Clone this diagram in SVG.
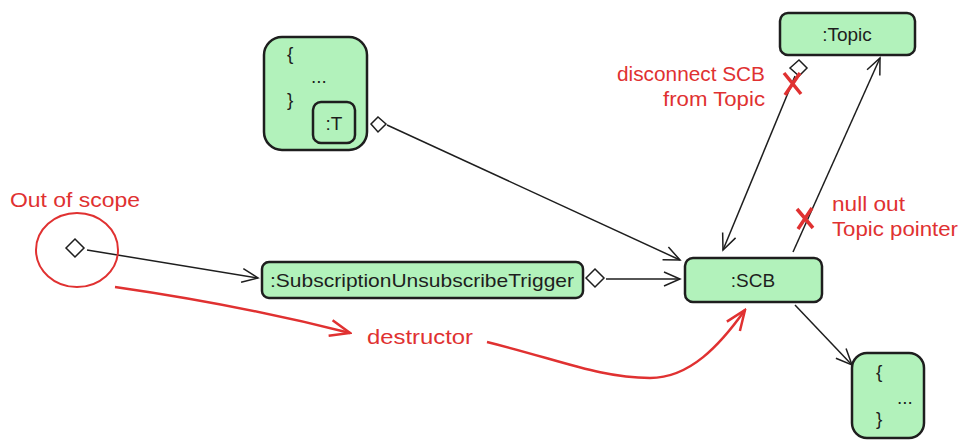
<svg xmlns="http://www.w3.org/2000/svg" width="968" height="448" viewBox="0 0 968 448">
<style>
.box{fill:#b2f2bb;stroke:#1e1e1e;stroke-width:2.5}
.t{font-family:"Liberation Sans",Arial,sans-serif;font-size:19px;fill:#1e1e1e}
.r{font-family:"Liberation Sans",Arial,sans-serif;font-size:20px;fill:#e03131}
.c{fill:none;stroke:#1e1e1e;stroke-width:1.5}
.rc{fill:none;stroke:#e03131;stroke-width:2.5}
.x{fill:none;stroke:#e03131;stroke-width:3.5}
.dia{fill:#fff;stroke:#1e1e1e;stroke-width:1.5}
</style>
<defs>
<marker id="ah" viewBox="0 0 20 20" refX="18" refY="10" markerWidth="20" markerHeight="20" markerUnits="userSpaceOnUse" orient="auto">
<path d="M2,3 L18,10 L2,17" fill="none" stroke="#1e1e1e" stroke-width="1.5"/>
</marker>
<marker id="rah" viewBox="0 0 24 24" refX="22" refY="12" markerWidth="24" markerHeight="24" markerUnits="userSpaceOnUse" orient="auto">
<path d="M2,4 L22,12 L2,20" fill="none" stroke="#e03131" stroke-width="2.5"/>
</marker>
</defs>

<g id="connectors">
<path class="c" d="M387,125 L680,260" marker-end="url(#ah)"/>
<path class="c" d="M87,250 L258,278" marker-end="url(#ah)"/>
<path class="c" d="M606,279 L680,279" marker-end="url(#ah)"/>
<path class="c" d="M795,76 L723,250" marker-end="url(#ah)"/>
<path class="c" d="M793,252 L880,58" marker-end="url(#ah)"/>
<path class="c" d="M795,305 L852,365" marker-end="url(#ah)"/>
<path class="rc" d="M115,287 Q240,305 350,333" marker-end="url(#rah)"/>
<path class="rc" d="M487,342 C560,360 600,378 650,378 C690,378 720,345 745,310" marker-end="url(#rah)"/>
</g>

<g id="block1">
<rect class="box" x="264" y="37" width="103" height="113" rx="18"/>
<text class="t" x="287" y="60">{</text>
<text class="t" x="311" y="83">...</text>
<text class="t" x="287" y="106">}</text>
</g>
<g id="t">
<rect class="box" x="313" y="102" width="42" height="41" rx="8"/>
<text class="t" x="334" y="130" text-anchor="middle" font-size="17">:T</text>
<path class="dia" d="M371,124 L378,117 L386,124 L378,132 Z"/>
</g>

<g id="topic">
<rect class="box" x="780" y="13" width="135" height="42" rx="8"/>
<text class="t" x="847" y="41" text-anchor="middle">:Topic</text>
<path class="dia" d="M790,68 L799,60 L807,68 L799,76 Z"/>
</g>

<g id="scope">
<ellipse cx="77" cy="250" rx="41" ry="37" fill="none" stroke="#e03131" stroke-width="2"/>
<text class="r" x="10" y="207" textLength="130" lengthAdjust="spacingAndGlyphs">Out of scope</text>
<path class="dia" d="M66,248 L75,239 L84,248 L75,257 Z"/>
</g>

<g id="trigger">
<rect class="box" x="262" y="262" width="321" height="36" rx="7"/>
<text class="t" x="422" y="287" text-anchor="middle" textLength="304" lengthAdjust="spacingAndGlyphs">:SubscriptionUnsubscribeTrigger</text>
<path class="dia" d="M586,278 L595,269 L604,278 L595,287 Z"/>
</g>

<g id="scb">
<rect class="box" x="685" y="258" width="137" height="44" rx="8"/>
<text class="t" x="753" y="287" text-anchor="middle">:SCB</text>
</g>

<g id="block2">
<rect class="box" x="852" y="353" width="72" height="85" rx="15"/>
<text class="t" x="876" y="378">{</text>
<text class="t" x="897" y="404">...</text>
<text class="t" x="876" y="425">}</text>
</g>

<g id="annotations">
<text class="r" x="765" y="81" text-anchor="end" textLength="148" lengthAdjust="spacingAndGlyphs">disconnect SCB</text>
<text class="r" x="765" y="106" text-anchor="end" textLength="102" lengthAdjust="spacingAndGlyphs">from Topic</text>
<path class="x" d="M784,73 L801,94 M800,73 L785,95"/>
<path class="x" d="M797,209 L813,228 M812,208 L798,229"/>
<text class="r" x="832" y="211" textLength="73" lengthAdjust="spacingAndGlyphs">null out</text>
<text class="r" x="832" y="236" textLength="126" lengthAdjust="spacingAndGlyphs">Topic pointer</text>
<text class="r" x="367" y="344" textLength="106" lengthAdjust="spacingAndGlyphs">destructor</text>
</g>
</svg>
